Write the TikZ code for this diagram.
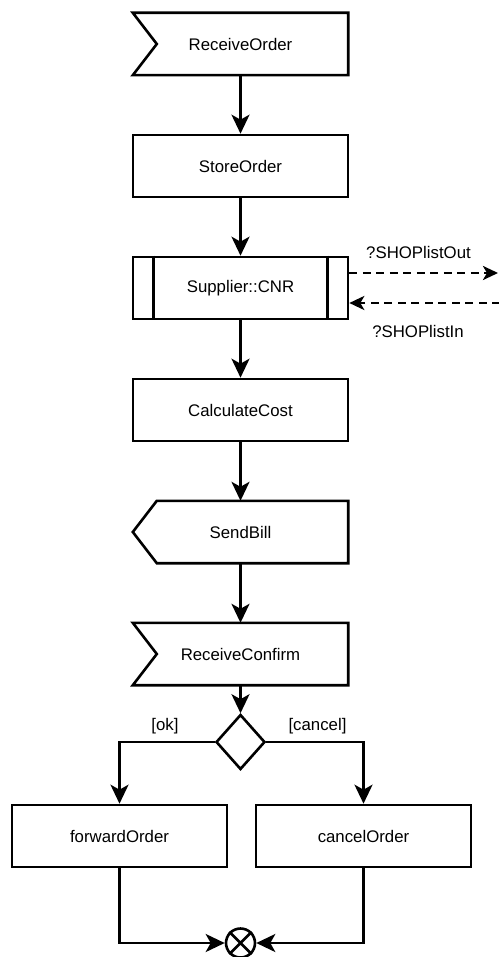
\documentclass[tikz,border=0pt]{standalone}
\usepackage{fontspec}
\setmainfont{Liberation Sans}
\usetikzlibrary{arrows.meta,shapes.geometric}
\tikzset{
  lw/.style={line width=2.6pt},
  txt/.style={font=\fontsize{16.8}{20}\selectfont},
  plainbox/.style={txt,rectangle,minimum width=215pt,minimum height=62pt,inner sep=0pt},
  box/.style={plainbox,lw,draw},
  flow/.style={lw,-{Stealth[length=19pt,width=18pt,inset=5pt]}},
  msg/.style={line width=2.8pt,dash pattern=on 8pt off 5.5pt,-{Stealth[length=15pt,width=14pt,inset=4pt]}},
  lbl/.style={txt,inner sep=0pt}
}
\begin{document}
\begin{tikzpicture}[x=1pt,y=-1pt]
\useasboundingbox (0,0) rectangle (498,957);
% nodes
\node[plainbox] (ro) at (240.5,44) {ReceiveOrder};
\draw[lw] (ro.north west) -- (ro.north east) -- (ro.south east) -- (ro.south west) -- ([xshift=24pt]ro.west) -- cycle;
\node[box] (so) at (240.5,166) {StoreOrder};
\node[box] (cnr) at (240.5,288) {Supplier::CNR};
\draw[lw] ([xshift=22pt]cnr.north west) -- ([xshift=22pt]cnr.south west);
\draw[lw] ([xshift=-22pt]cnr.north east) -- ([xshift=-22pt]cnr.south east);
\node[box] (cc) at (240.5,410) {CalculateCost};
\node[plainbox] (sb) at (240.5,532) {SendBill};
\draw[lw] (sb.west) -- ([xshift=24pt]sb.north west) -- (sb.north east) -- (sb.south east) -- ([xshift=24pt]sb.south west) -- cycle;
\node[plainbox] (rc) at (240.5,654) {ReceiveConfirm};
\draw[lw] (rc.north west) -- (rc.north east) -- (rc.south east) -- (rc.south west) -- ([xshift=24pt]rc.west) -- cycle;
\node[diamond,lw,draw,minimum width=49pt,minimum height=55pt,inner sep=0pt] (dec) at (240.5,742) {};
\node[box] (fo) at (119.5,836) {forwardOrder};
\node[box] (co) at (363.5,836) {cancelOrder};
\node[circle,lw,draw,minimum size=29pt,inner sep=0pt] (mg) at (240.5,943) {};
\draw[lw] (mg.north east) -- (mg.south west) (mg.north west) -- (mg.south east);
% labels
\node[lbl] (lout) at (418.5,252) {?SHOPlistOut};
\node[lbl] (lin) at (418,331) {?SHOPlistIn};
\node[lbl] (lok) at (165,726) {[ok]};
\node[lbl] (lcancel) at (317.5,726) {[cancel]};
% connectors
\draw[flow] (ro.south) -- (so.north);
\draw[flow] (so.south) -- (cnr.north);
\draw[flow] (cnr.south) -- (cc.north);
\draw[flow] (cc.south) -- (sb.north);
\draw[flow] (sb.south) -- (rc.north);
\draw[flow] (rc.south) -- (dec.north);
\draw[flow] (dec.west) -| (fo.north);
\draw[flow] (dec.east) -| (co.north);
\draw[flow] (fo.south) |- (mg.west);
\draw[flow] (co.south) |- (mg.east);
\coordinate (outEnd) at (498,273);
\coordinate (inStart) at (500,303);
\draw[msg] (cnr.east |- outEnd) -- (outEnd);
\draw[msg] (inStart) -- (cnr.east |- inStart);
\end{tikzpicture}
\end{document}
